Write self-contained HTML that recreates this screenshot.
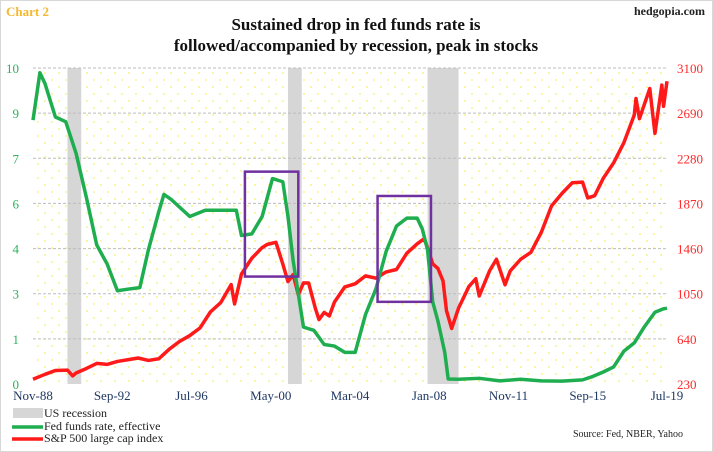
<!DOCTYPE html>
<html><head><meta charset="utf-8"><style>
body{margin:0;background:#fff;}
#wrap{position:relative;width:713px;height:452px;overflow:hidden;font-family:"Liberation Serif",serif;}
</style></head><body>
<div id="wrap">
<svg id="chart" width="713" height="452" xmlns="http://www.w3.org/2000/svg">
<defs><pattern id="dots" width="14" height="14" patternUnits="userSpaceOnUse"><circle cx="3" cy="3" r="0.9" fill="#f4f06a"/><circle cx="10" cy="10" r="0.9" fill="#f4f06a"/></pattern></defs>
<rect x="0.5" y="0.5" width="712" height="451" fill="#fff" stroke="#d8d8d8"/>
<text x="6" y="16" font-size="13" font-weight="bold" fill="#f5b82e">Chart 2</text>
<text x="705" y="15" font-size="12" font-weight="bold" text-anchor="end" fill="#222">hedgopia.com</text>
<text x="356" y="30" font-size="17" font-weight="bold" text-anchor="middle" fill="#111">Sustained drop in fed funds rate is</text>
<text x="356" y="51" font-size="17" font-weight="bold" text-anchor="middle" fill="#111">followed/accompanied by recession, peak in stocks</text>
<rect x="33" y="68" width="634" height="316" fill="url(#dots)"/>
<g id="rec"></g><g id="grid"></g><g id="axes"></g><g id="series"></g><g id="boxes"></g>
<rect x="13" y="408" width="30" height="10" fill="#d6d6d6"/>
<text x="44" y="417" font-size="12" fill="#222">US recession</text>
<line x1="12" y1="427" x2="43" y2="427" stroke="#1fae4f" stroke-width="3.5"/>
<text x="44" y="430" font-size="12" fill="#222">Fed funds rate, effective</text>
<line x1="12" y1="439" x2="43" y2="439" stroke="#ff1a1a" stroke-width="3.5"/>
<text x="44" y="442" font-size="12" fill="#222">S&amp;P 500 large cap index</text>
<text x="683" y="437" font-size="10" text-anchor="end" fill="#222">Source: Fed, NBER, Yahoo</text>
</svg></div>
<script>
const xTickLabels=["Nov-88","Sep-92","Jul-96","May-00","Mar-04","Jan-08","Nov-11","Sep-15","Jul-19"];
const leftTickLabels=["0","1","3","4","6","7","9","10"];
const rightTickLabels=["230","640","1050","1460","1870","2280","2690","3100"];
const recessions=[["1990-07","1991-03"],["2001-03","2001-11"],["2007-12","2009-06"]];
const fedDates=["1988-11","1989-03","1989-06","1989-12","1990-06","1990-12","1991-06","1991-12","1992-06","1992-12","1993-06","1994-01","1994-06","1994-12","1995-03","1995-07","1996-01","1996-06","1997-03","1997-12","1998-09","1998-12","1999-06","1999-12","2000-06","2000-12","2001-03","2001-06","2001-12","2002-06","2002-12","2003-06","2003-12","2004-06","2004-12","2005-06","2005-12","2006-06","2006-12","2007-06","2007-09","2007-12","2008-03","2008-06","2008-10","2008-12","2009-06","2010-06","2011-06","2012-06","2013-06","2014-06","2015-06","2015-12","2016-06","2016-12","2017-06","2017-12","2018-06","2018-12","2019-05","2019-07"];
const fedValues=[8.35,9.85,9.5,8.45,8.3,7.3,5.9,4.4,3.8,2.95,3.0,3.05,4.25,5.45,6.0,5.85,5.55,5.3,5.5,5.5,5.5,4.7,4.75,5.3,6.5,6.4,5.3,3.9,1.8,1.7,1.25,1.2,1.0,1.0,2.2,3.0,4.2,5.0,5.25,5.25,4.9,4.25,2.6,2.0,1.0,0.16,0.15,0.18,0.1,0.15,0.1,0.09,0.13,0.24,0.38,0.54,1.04,1.3,1.82,2.27,2.38,2.4];
const spDates=["1988-11","1989-06","1989-12","1990-07","1990-10","1990-12","1991-06","1991-12","1992-06","1992-12","1993-06","1993-12","1994-06","1994-12","1995-06","1995-12","1996-06","1996-12","1997-06","1997-12","1998-06","1998-08","1998-12","1999-06","1999-12","2000-03","2000-08","2000-12","2001-03","2001-06","2001-09","2001-12","2002-03","2002-07","2002-09","2002-12","2003-03","2003-06","2003-12","2004-06","2004-12","2005-06","2005-12","2006-06","2006-12","2007-06","2007-10","2007-12","2008-03","2008-06","2008-09","2008-11","2009-02","2009-06","2009-12","2010-04","2010-06","2010-12","2011-04","2011-09","2011-12","2012-06","2012-12","2013-06","2013-12","2014-06","2014-12","2015-06","2015-09","2016-01","2016-06","2016-12","2017-06","2017-12","2018-01","2018-03","2018-09","2018-12","2019-04","2019-05","2019-07"];
const spValues=[273,318,353,356,304,330,371,417,408,435,450,466,444,459,545,616,670,740,885,970,1133,957,1229,1372,1469,1498,1517,1320,1160,1224,1040,1148,1147,911,815,880,848,975,1112,1140,1212,1191,1248,1270,1418,1503,1549,1468,1322,1280,1166,896,735,919,1115,1186,1030,1257,1363,1131,1257,1362,1426,1606,1848,1960,2058,2063,1920,1940,2098,2238,2423,2673,2823,2640,2913,2506,2945,2752,2980];
const boxes=[["1999-02","2001-09",6.72,3.4],["2005-07","2008-02",5.95,2.6]];

const X0=33,X1=667,Y0=384,Y1=68;
const NS="http://www.w3.org/2000/svg";
function mIdx(s){const [y,m]=s.split("-").map(Number);return (y-1988)*12+(m-11);}
const xMax=mIdx("2019-07");
function xs(s){return X0+mIdx(s)/xMax*(X1-X0);}
function yl(v){return Y0-v/10*(Y0-Y1);}
function yr(v){return Y0-(v-230)/(3100-230)*(Y0-Y1);}
function mk(tag,attrs,parent){const e=document.createElementNS(NS,tag);for(const k in attrs)e.setAttribute(k,attrs[k]);parent.appendChild(e);return e;}
const gRec=document.getElementById("rec"),gGrid=document.getElementById("grid"),gAx=document.getElementById("axes"),gS=document.getElementById("series"),gB=document.getElementById("boxes");
recessions.forEach(r=>{
 const e=mk("rect",{x:xs(r[0]),y:Y1,width:xs(r[1])-xs(r[0]),height:Y0-Y1,fill:"#d6d6d6"},gRec);
 
 
});
for(let i=0;i<8;i++){
 const y=Y0-i*(Y0-Y1)/7;
 if(i>0){const g=mk("line",{x1:X0,x2:X1,y1:y,y2:y,stroke:"#bdbdbd","stroke-dasharray":"3,2","stroke-width":1},gGrid);
 
 }
 const t=mk("text",{x:X0-14,y:y+5,"font-size":13,"text-anchor":"end",fill:"#2bb35a"},gAx);t.textContent=leftTickLabels[i];
 
 
 const t2=mk("text",{x:X1+10,y:y+5,"font-size":13,fill:"#ff2a2a"},gAx);t2.textContent=rightTickLabels[i];
 
 
}
xTickLabels.forEach((l,i)=>{
 const x=X0+i*(X1-X0)/(xTickLabels.length-1);
 const t=mk("text",{x:x,y:400,"font-size":13,"text-anchor":"middle",fill:"#1f3864"},gAx);t.textContent=l;
 
 
});
const sp=mk("polyline",{points:spDates.map((d,i)=>xs(d)+","+yr(spValues[i])).join(" "),fill:"none",stroke:"#ff1a1a","stroke-width":3.5,"stroke-linejoin":"round"},gS);


const fed=mk("polyline",{points:fedDates.map((d,i)=>xs(d)+","+yl(fedValues[i])).join(" "),fill:"none",stroke:"#1fae4f","stroke-width":3.5,"stroke-linejoin":"round"},gS);


boxes.forEach(b=>{
 const e=mk("rect",{x:xs(b[0]),y:yl(b[2]),width:xs(b[1])-xs(b[0]),height:yl(b[3])-yl(b[2]),fill:"none",stroke:"#7030a0","stroke-width":2.5},gB);
 
 
});
</script>
</body></html>
